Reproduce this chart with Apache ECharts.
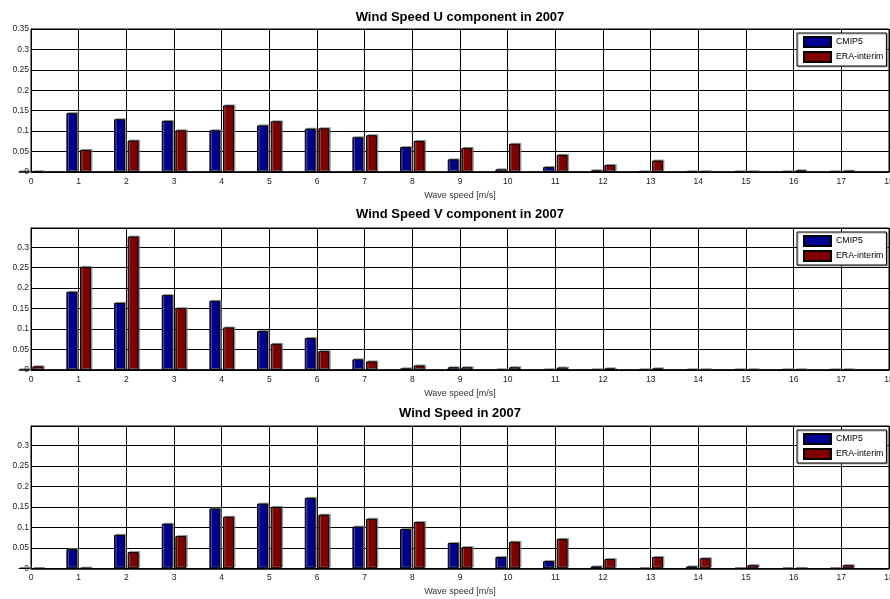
<!DOCTYPE html>
<html><head><meta charset="utf-8">
<script src="https://cdn.jsdelivr.net/npm/echarts@6/dist/echarts.min.js"></script>
<style>html,body{margin:0;padding:0;background:#fff}#c{width:890px;height:599px}</style>
</head><body><div id="c"></div>
<script>
const speeds = [0,1,2,3,4,5,6,7,8,9,10,11,12,13,14,15,16,17];
const titles = ['Wind Speed U component in 2007','Wind Speed V component in 2007','Wind Speed in 2007'];
const seriesNames = ['CMIP5','ERA-interim'];
const xLabel = 'Wave speed [m/s]';
const uCMIP5 = [0,0.144,0.129,0.125,0.102,0.114,0.106,0.085,0.061,0.031,0.0065,0.012,0.004,0,0,0,0,0];
const uERA   = [0,0.054,0.077,0.102,0.163,0.124,0.107,0.090,0.076,0.059,0.069,0.042,0.017,0.028,0,0,0.004,0.003];
const vCMIP5 = [0,0.191,0.164,0.183,0.169,0.095,0.078,0.026,0.004,0.0066,0,0,0,0,0,0,0,0];
const vERA   = [0.009,0.252,0.326,0.151,0.104,0.064,0.046,0.021,0.011,0.0066,0.0066,0.006,0.004,0.004,0,0,0,0];
const sCMIP5 = [0,0.047,0.082,0.109,0.146,0.158,0.172,0.102,0.096,0.062,0.028,0.018,0.005,0,0.005,0,0,0];
const sERA   = [0,0.001,0.040,0.079,0.126,0.150,0.131,0.121,0.113,0.052,0.065,0.072,0.023,0.028,0.025,0.008,0,0.008];
const yMax = [0.35, 0.347, 0.347];

const panels = [[uCMIP5,uERA],[vCMIP5,vERA],[sCMIP5,sERA]];
const gridTops = [29, 228, 426];
const gridH = [143, 142, 142.5];
const titleY = [17, 214, 413];
const colors = ['#00008f','#800000'];
const font = 'Liberation Sans, Arial, Helvetica, sans-serif';

const grids=[], xAxes=[], yAxes=[], series=[], legends=[], graphics=[];
panels.forEach((p,i)=>{
  grids.push({left:31, top:gridTops[i], width:858, height:gridH[i], show:true, borderColor:'#000', borderWidth:1, backgroundColor:'#fff', containLabel:false, outerBoundsMode:'none'});
  xAxes.push({type:'value', gridIndex:i, min:0, max:18, interval:1,
    name:xLabel, nameLocation:'middle', nameGap:19, nameTextStyle:{fontFamily:font,fontSize:9,color:'#333'},
    axisLine:{show:true,onZero:false,lineStyle:{color:'#000',width:1.5}},
    axisTick:{show:false},
    axisLabel:{fontFamily:font,fontSize:8.5,color:'#222',margin:5,showMaxLabel:true,showMinLabel:true,hideOverlap:false},
    splitLine:{show:true,lineStyle:{color:'#000',width:1}}});
  yAxes.push({type:'value', gridIndex:i, min:0, max:yMax[i], interval:0.05,
    axisLine:{show:true,lineStyle:{color:'#000',width:1}},
    axisTick:{show:false},
    axisLabel:{fontFamily:font,fontSize:8.5,color:'#222',margin:2,showMaxLabel:i===0},
    splitLine:{show:true,lineStyle:{color:'#000',width:1}}});
  p.forEach((vals,k)=>{
    series.push({type:'bar', name:seriesNames[k], xAxisIndex:i, yAxisIndex:i,
      data:speeds.map((s,j)=>[s, vals[j]]),
      barWidth:10.9, barGap:'25%', clip:true,
      itemStyle:{color:colors[k], borderColor:'#000', borderWidth:1, shadowColor:'rgba(120,120,120,0.7)', shadowOffsetX:1.5, shadowOffsetY:-1, shadowBlur:0},
      emphasis:{disabled:true}, animation:false});
  });
  legends.push({left:797, top:gridTops[i]+4, orient:'vertical', icon:'rect', itemWidth:27, itemHeight:10, itemGap:3,
    padding:[3,3,3,6], borderColor:'#000', borderWidth:1, backgroundColor:'#fff',
    shadowColor:'rgba(120,120,120,0.6)', shadowOffsetX:1, shadowOffsetY:1,
    textStyle:{fontFamily:font,fontSize:8.8,color:'#000'}, data:seriesNames, selectedMode:false});
  graphics.push({type:'text', x:460, y:titleY[i], style:{text:titles[i], fontFamily:font, fontSize:13, fontWeight:'bold', fill:'#000', textAlign:'center', textVerticalAlign:'middle'}});
});

const chart = echarts.init(document.getElementById('c'), null, {renderer:'canvas'});
chart.setOption({animation:false, backgroundColor:'#fff', grid:grids, xAxis:xAxes, yAxis:yAxes, series:series, legend:legends, graphic:graphics});
</script></body></html>
